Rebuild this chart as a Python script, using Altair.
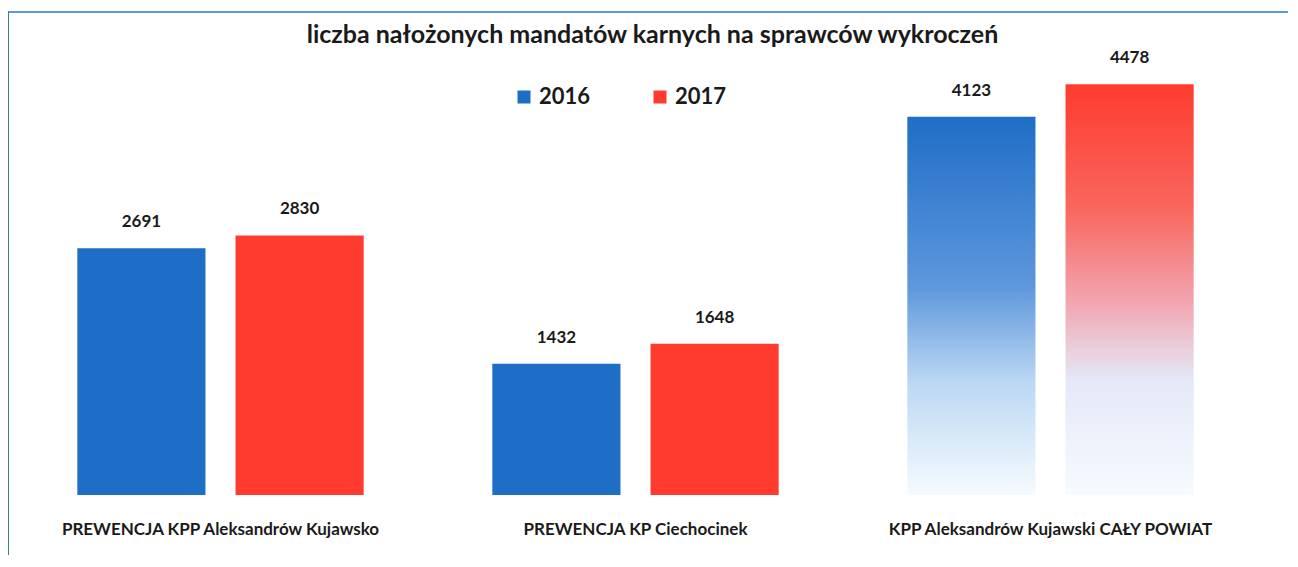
import altair as alt
import pandas as pd

# ---- data ----
groups = [
    "PREWENCJA KPP Aleksandrów Kujawsko",
    "PREWENCJA KP Ciechocinek",
    "KPP Aleksandrów Kujawski CAŁY POWIAT",
]
years = ["2016", "2017"]
values_2016 = [2691, 1432, 4123]
values_2017 = [2830, 1648, 4478]
gradient_group = groups[2]
title_text = "liczba nałożonych mandatów karnych na sprawców wykroczeń"

rows = []
for g, a, b in zip(groups, values_2016, values_2017):
    rows.append({"group": g, "year": years[0], "value": a})
    rows.append({"group": g, "year": years[1], "value": b})
df = pd.DataFrame(rows)

FONT = "Lato"
BLUE = "#1F6EC6"
RED = "#FF3B2F"
W, H = 1245, 477

x = alt.X(
    "group:N", sort=groups,
    scale=alt.Scale(paddingInner=0.31, paddingOuter=0.155),
    axis=alt.Axis(title=None, domain=False, ticks=False, labelAngle=0,
                  labelPadding=26, labelFontSize=17, labelFontWeight="bold",
                  labelColor="#1a1a1a", labelFont=FONT, labelLimit=500),
)
xo = alt.XOffset("year:N", sort=years,
                 scale=alt.Scale(paddingInner=0.19, paddingOuter=0))
y = alt.Y("value:Q", scale=alt.Scale(domain=[0, 5200], nice=False), axis=None)

base = alt.Chart(df)

solid = base.mark_bar().encode(
    x=x, xOffset=xo, y=y,
    color=alt.Color(
        "year:N", sort=years,
        scale=alt.Scale(domain=years, range=[BLUE, RED]),
        legend=alt.Legend(
            title=None, orient="none", legendX=500, legendY=68,
            direction="horizontal", symbolType="square", symbolSize=169,
            symbolStrokeWidth=0, labelFontSize=22, labelFontWeight="bold",
            labelFont=FONT, labelColor="#1a1a1a", columnPadding=58,
            labelOffset=4,
        ),
    ),
).transform_filter(alt.datum.group != gradient_group)

grad_blue = alt.Gradient(
    gradient="linear", x1=0, x2=0, y1=0, y2=1,
    stops=[
        alt.GradientStop(offset=0, color="#1F6EC6"),
        alt.GradientStop(offset=0.45, color="#5E97DC"),
        alt.GradientStop(offset=0.7, color="#BBD7F3"),
        alt.GradientStop(offset=1, color="#F5FBFE"),
    ],
)
grad_red = alt.Gradient(
    gradient="linear", x1=0, x2=0, y1=0, y2=1,
    stops=[
        alt.GradientStop(offset=0, color="#FF3B2F"),
        alt.GradientStop(offset=0.3, color="#F9665C"),
        alt.GradientStop(offset=0.52, color="#F3A2AC"),
        alt.GradientStop(offset=0.72, color="#E4E8F8"),
        alt.GradientStop(offset=1, color="#F5FBFE"),
    ],
)

g_blue = base.mark_bar(color=grad_blue).encode(x=x, xOffset=xo, y=y).transform_filter(
    (alt.datum.group == gradient_group) & (alt.datum.year == years[0]))
g_red = base.mark_bar(color=grad_red).encode(x=x, xOffset=xo, y=y).transform_filter(
    (alt.datum.group == gradient_group) & (alt.datum.year == years[1]))

labels = base.mark_text(
    baseline="bottom", dy=-17, font=FONT, fontSize=17, fontWeight="bold",
    color="#1a1a1a",
).encode(x=x, xOffset=xo, y=y, text=alt.Text("value:Q", format="d"))

frame_df = pd.DataFrame({"k": [0]})
top_line = alt.Chart(frame_df).mark_rule(color="#5B9BD5", strokeWidth=2).encode(
    x=alt.value(-5), x2=alt.value(W + 40), y=alt.value(-6))
left_line = alt.Chart(frame_df).mark_rule(color="#2E8B74", strokeWidth=2).encode(
    x=alt.value(-5), y=alt.value(-7), y2=alt.value(H + 70))

chart = alt.layer(top_line, left_line, solid, g_blue, g_red, labels).properties(
    width=W, height=H,
    background="white",
    autosize=alt.AutoSizeParams(type="none"),
    padding={"left": 5, "top": 10, "right": 30, "bottom": 60},
    title=alt.TitleParams(
        title_text, font=FONT, fontSize=25, fontWeight="bold", color="#1a1a1a",
        anchor="middle", dx=17, dy=42,
    ),
).configure_view(stroke="transparent", strokeWidth=0)

chart.save("out.html", embed_options={"renderer": "svg", "actions": False})
